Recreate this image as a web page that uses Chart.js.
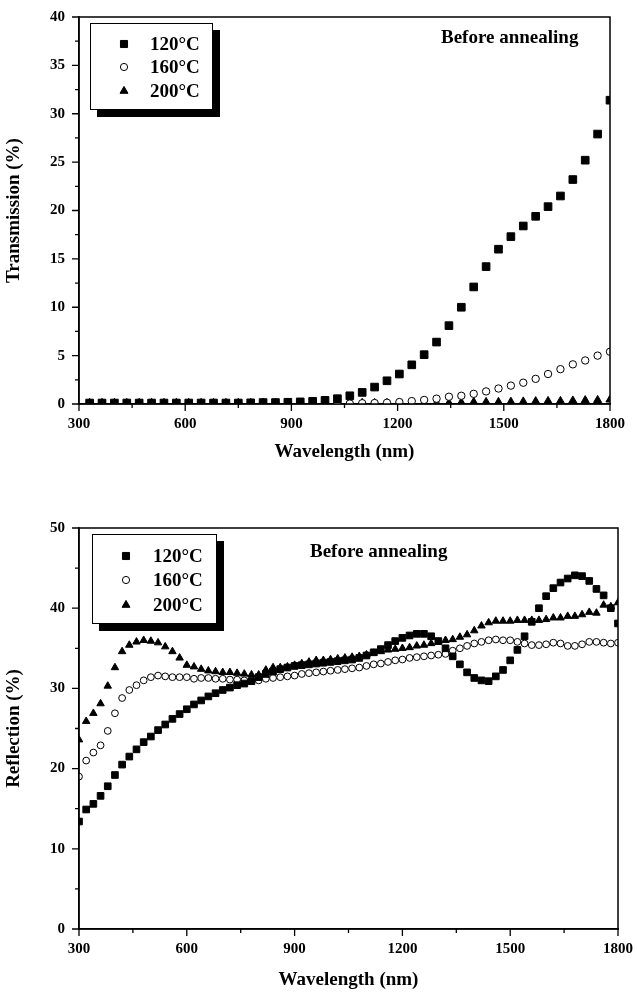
<!DOCTYPE html>
<html><head><meta charset="utf-8">
<script src="https://cdn.jsdelivr.net/npm/chart.js@4.4.1/dist/chart.umd.min.js"></script>
<style>
html,body{margin:0;padding:0;background:#fff;width:637px;height:992px;overflow:hidden;}
canvas{position:absolute;left:0;}
#c1{top:0;}
#c2{top:470px;}
</style></head><body>
<canvas id="c1" width="637" height="466"></canvas>
<canvas id="c2" width="637" height="522"></canvas>
<script>
const FONT = "'Liberation Serif','Times New Roman',serif";
const seriesLabels = ['120°C', '160°C', '200°C'];
const noteText = 'Before annealing';
const xTitle = 'Wavelength (nm)';
const transTitle = 'Transmission (%)';
const reflTitle = 'Reflection (%)';

// Transmission (top panel)
const transWavelength = [330,365,400,435,470,505,540,575,610,645,680,715,750,785,820,855,890,925,960,995,1030,1065,1100,1135,1170,1205,1240,1275,1310,1345,1380,1415,1450,1485,1520,1555,1590,1625,1660,1695,1730,1765,1800];
const trans120 = [0.1,0.1,0.1,0.1,0.1,0.1,0.1,0.1,0.1,0.1,0.1,0.1,0.1,0.12,0.15,0.15,0.18,0.22,0.28,0.38,0.55,0.85,1.2,1.75,2.4,3.1,4.05,5.1,6.4,8.1,10.0,12.1,14.2,16.0,17.3,18.4,19.4,20.4,21.5,23.2,25.2,27.9,31.4];
const trans160 = [0.05,0.05,0.05,0.05,0.05,0.05,0.05,0.05,0.05,0.05,0.05,0.05,0.05,0.05,0.05,0.05,0.05,0.05,0.05,0.05,0.05,0.05,0.08,0.1,0.13,0.2,0.3,0.42,0.55,0.75,0.85,1.05,1.3,1.6,1.9,2.2,2.6,3.1,3.6,4.1,4.5,5.0,5.4];
const trans200 = [0.1,0.1,0.1,0.1,0.1,0.1,0.1,0.1,0.1,0.1,0.1,0.1,0.1,0.1,0.1,0.1,0.1,0.1,0.1,0.1,0.1,0.1,0.1,0.1,0.1,0.1,0.1,0.1,0.1,0.1,0.15,0.2,0.2,0.2,0.22,0.25,0.28,0.3,0.3,0.35,0.38,0.4,0.45];

// Reflection (bottom panel)
const reflWavelength = [300,320,340,360,380,400,420,440,460,480,500,520,540,560,580,600,620,640,660,680,700,720,740,760,780,800,820,840,860,880,900,920,940,960,980,1000,1020,1040,1060,1080,1100,1120,1140,1160,1180,1200,1220,1240,1260,1280,1300,1320,1340,1360,1380,1400,1420,1440,1460,1480,1500,1520,1540,1560,1580,1600,1620,1640,1660,1680,1700,1720,1740,1760,1780,1800];
const refl120 = [13.4,14.9,15.6,16.6,17.8,19.2,20.5,21.5,22.4,23.3,24.0,24.8,25.5,26.2,26.8,27.4,28.0,28.5,29.0,29.4,29.8,30.1,30.4,30.6,30.9,31.4,31.8,32.1,32.4,32.6,32.8,32.9,33.0,33.1,33.2,33.3,33.4,33.5,33.6,33.8,34.1,34.5,34.9,35.4,35.9,36.3,36.6,36.8,36.8,36.5,35.9,35.0,34.0,33.0,32.0,31.3,31.0,30.9,31.5,32.3,33.5,34.8,36.5,38.3,40.0,41.5,42.5,43.2,43.7,44.1,44.0,43.4,42.4,41.6,40.0,38.1];
const refl160 = [19.0,21.0,22.0,22.9,24.7,26.9,28.8,29.8,30.4,31.0,31.4,31.6,31.5,31.4,31.4,31.4,31.2,31.3,31.3,31.2,31.2,31.1,31.1,31.0,31.0,31.0,31.2,31.3,31.4,31.5,31.6,31.8,31.9,32.0,32.1,32.2,32.3,32.4,32.5,32.6,32.8,33.0,33.1,33.3,33.5,33.6,33.8,33.9,34.0,34.1,34.2,34.3,34.7,35.0,35.3,35.6,35.8,36.0,36.1,36.0,36.0,35.8,35.6,35.4,35.4,35.5,35.7,35.6,35.3,35.3,35.5,35.8,35.8,35.7,35.6,35.7];
const refl200 = [23.6,25.9,26.9,28.1,30.3,32.6,34.6,35.4,35.8,36.0,35.9,35.7,35.2,34.6,33.8,32.9,32.7,32.4,32.2,32.1,32.0,32.0,31.9,31.8,31.7,31.7,32.3,32.6,32.6,32.7,32.9,33.1,33.3,33.5,33.5,33.6,33.7,33.8,33.9,34.0,34.2,34.4,34.6,34.8,34.9,35.0,35.1,35.3,35.4,35.6,35.8,36.0,36.1,36.4,36.7,37.2,37.8,38.2,38.4,38.4,38.4,38.5,38.5,38.5,38.5,38.6,38.8,38.8,39.0,39.0,39.2,39.5,39.4,40.4,40.2,40.7];

function pts(xs, ys){ return xs.map((x,i)=>({x:x, y:ys[i]})); }

const pointStyles = ['rect','circle','triangle'];
const fills = ['#000','#fff','#000'];

function makeDatasets(xs, series, radii){
  return series.map((ys,i)=>({
    label: seriesLabels[i],
    data: pts(xs, ys),
    pointStyle: pointStyles[i],
    pointRadius: radii[i],
    pointBackgroundColor: fills[i],
    pointBorderColor: '#000',
    pointBorderWidth: 1,
    showLine: false
  }));
}

const framePlugin = {
  id: 'frame',
  afterDraw(chart, args, o){
    const ctx = chart.ctx, a = chart.chartArea;
    const xs = chart.scales.x, ys = chart.scales.y;
    ctx.save();
    ctx.strokeStyle = '#000';
    ctx.lineWidth = 1.5;
    ctx.strokeRect(a.left, a.top, a.right - a.left, a.bottom - a.top);
    ctx.lineWidth = 1.3;
    ctx.beginPath();
    xs.ticks.forEach(t=>{
      const px = xs.getPixelForValue(t.value);
      const len = (Math.abs(t.value % o.xMajor) < 1e-6) ? 7 : 4;
      ctx.moveTo(px, a.bottom); ctx.lineTo(px, a.bottom + len);
    });
    ys.ticks.forEach(t=>{
      const py = ys.getPixelForValue(t.value);
      const len = (Math.abs(t.value % o.yMajor) < 1e-6) ? 7 : 4;
      ctx.moveTo(a.left, py); ctx.lineTo(a.left - len, py);
    });
    ctx.stroke();
    // legend box with shadow
    const L = o.legend;
    ctx.fillStyle = '#000';
    ctx.fillRect(L.x + L.shadow, L.y + L.shadow, L.w, L.h);
    ctx.fillStyle = '#fff';
    ctx.fillRect(L.x, L.y, L.w, L.h);
    ctx.lineWidth = 1;
    ctx.strokeStyle = '#000';
    ctx.strokeRect(L.x + 0.5, L.y + 0.5, L.w - 1, L.h - 1);
    ctx.font = 'bold ' + L.fontSize + 'px ' + FONT;
    ctx.textBaseline = 'middle';
    ctx.textAlign = 'left';
    chart.data.datasets.forEach((ds,i)=>{
      const cy = L.rows[i];
      ctx.fillStyle = fills[i];
      ctx.strokeStyle = '#000';
      ctx.lineWidth = 1;
      Chart.helpers.drawPoint(ctx, {pointStyle: ds.pointStyle, radius: L.radii[i], borderWidth: 1, rotation: 0}, L.symX, cy);
      ctx.fillStyle = '#000';
      ctx.fillText(ds.label, L.textX, cy + 1);
    });
    // note text
    ctx.font = 'bold ' + o.note.fontSize + 'px ' + FONT;
    ctx.textAlign = 'left';
    ctx.fillStyle = '#000';
    ctx.fillText(noteText, o.note.x, o.note.y);
    ctx.restore();
  }
};

function makeChart(id, datasets, cfg){
  return new Chart(document.getElementById(id), {
    type: 'scatter',
    data: { datasets },
    plugins: [framePlugin],
    options: {
      responsive: false,
      devicePixelRatio: 1,
      animation: false,
      events: [],
      layout: { padding: { top: cfg.padTop, right: cfg.padRight, left: 0, bottom: 0 } },
      plugins: {
        legend: { display: false },
        tooltip: { enabled: false },
        frame: { xMajor: 300, yMajor: cfg.yMajor, legend: cfg.legend, note: cfg.note }
      },
      scales: {
        x: {
          type: 'linear', min: 300, max: 1800,
          afterFit: s => { s.height = cfg.xAxisH; },
          border: { display: true, color: '#000', width: 1.5 },
          grid: { display: true, drawOnChartArea: false, drawTicks: true, tickLength: 7, tickColor: 'rgba(0,0,0,0)' },
          ticks: {
            stepSize: 150, autoSkip: false, maxRotation: 0, padding: 4,
            color: '#000', font: { family: FONT, size: 15, weight: 'bold' },
            callback: v => (v % 300 === 0 ? String(v) : '')
          },
          title: { display: true, text: xTitle, color: '#000', font: { family: FONT, size: 19, weight: 'bold' }, padding: { top: 0, bottom: cfg.xTitlePad } }
        },
        y: {
          type: 'linear', min: 0, max: cfg.yMax,
          afterFit: s => { s.width = 79; },
          border: { display: true, color: '#000', width: 1.5 },
          grid: { display: true, drawOnChartArea: false, drawTicks: true, tickLength: 7, tickColor: 'rgba(0,0,0,0)' },
          ticks: {
            stepSize: cfg.yStep, autoSkip: false, padding: 7,
            color: '#000', font: { family: FONT, size: 15, weight: 'bold' },
            callback: v => (Math.abs(v % cfg.yMajor) < 1e-6 ? String(v) : '')
          },
          title: { display: true, text: cfg.yTitle, color: '#000', font: { family: FONT, size: 19, weight: 'bold' }, padding: { top: 3, bottom: 0 } }
        }
      }
    }
  });
}

makeChart('c1', makeDatasets(transWavelength, [trans120, trans160, trans200], [5.4, 3.7, 4.7]), {
  padTop: 17, padRight: 27, xAxisH: 62, xTitlePad: 3,
  yMax: 40, yStep: 2.5, yMajor: 5, yTitle: transTitle,
  legend: { x: 90, y: 23, w: 123, h: 87, shadow: 7, rows: [44, 67, 91], symX: 124, textX: 150, radii: [5, 3.6, 4.6], fontSize: 19 },
  note: { x: 441, y: 38, fontSize: 19 }
});

makeChart('c2', makeDatasets(reflWavelength, [refl120, refl160, refl200], [4.7, 3.4, 4.3]), {
  padTop: 58, padRight: 16, xAxisH: 63, xTitlePad: 1,
  yMax: 50, yStep: 5, yMajor: 10, yTitle: reflTitle,
  legend: { x: 92, y: 64, w: 125, h: 90, shadow: 7, rows: [86, 110, 135], symX: 126, textX: 153, radii: [5, 3.6, 4.6], fontSize: 19 },
  note: { x: 310, y: 82, fontSize: 19 }
});
</script>
</body></html>
